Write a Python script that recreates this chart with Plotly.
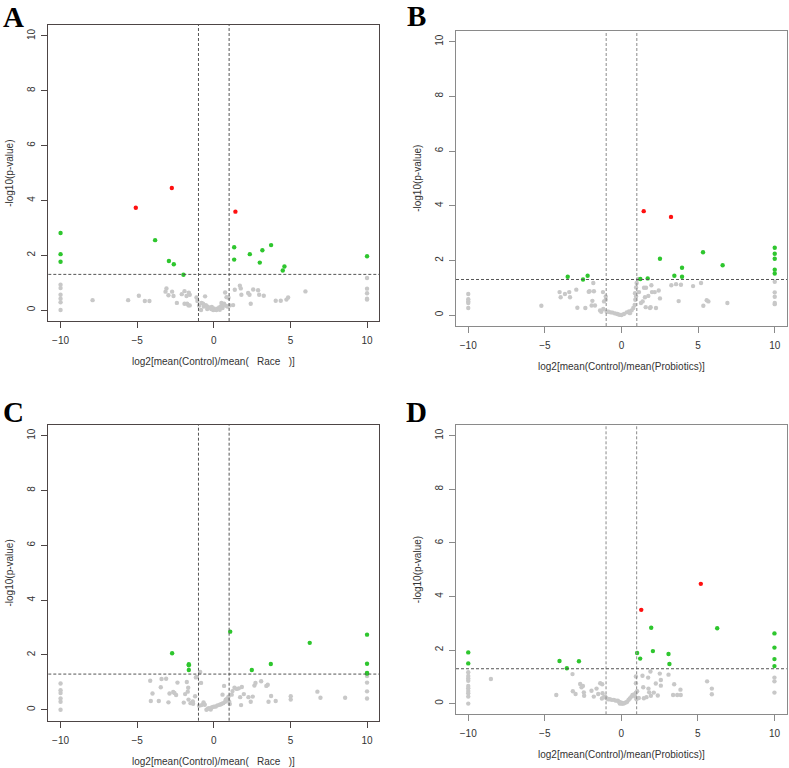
import plotly.graph_objects as go

# ---------------- Data ----------------
# Panel A: Control vs Race
A_grey_x = [-10, -10, -10, -10, -10, -10, 10, 10, 10, 10, 10,
            -7.91, -5.59, -4.89, -4.5, -4.2, -3.09, -3.15, -2.96, -2.72, -2.63, -2.41, -2.09, -1.91,
            -1.78, -1.63, -1.57, -1.91, -1.74, -1.65, -1.57, -1.13, -1.07, -0.8, -0.83, -0.57, -0.7,
            -0.52, -0.43, -0.3, -0.17, -0.04, 0.09, 0.22, 0.35, 0.46, 0.57, 0.67, 0.78, 0.89, 1.04,
            1.26, 0.74, 0.83, 0.96, -0.96, -0.65, -0.43, -0.13, 0.0, 0.17, 0.39, 0.5, 0.57, 1.37,
            1.7, 1.76, 1.8, 2.24, 2.33, 2.41, 2.57, 2.89, 2.96, 3.26, 4.04, 4.37, 4.74, 4.85, 5.98]
A_grey_y = [0.92, 0.80, 0.56, 0.41, 0.28, 0.0, 1.17, 0.78, 0.61, 0.41, 0.38,
            0.36, 0.36, 0.52, 0.33, 0.33, 0.79, 0.67, 0.54, 0.67, 0.51, 0.26, 0.58, 0.69,
            0.51, 0.63, 0.56, 0.23, 0.23, 0.17, 0.17, 0.46, 0.33, 0.26, 0.0, 0.5, 0.23,
            0.18, 0.13, 0.09, 0.04, 0.0, 0.01, 0.05, 0.09, 0.13, 0.18, 0.23, 0.16, 0.13, 0.17,
            0.18, 0.64, 0.47, 0.45, 0.16, 0.13, 0.04, 0.11, 0.06, 0.0, 0.01, 0.26, 0.07, 0.74,
            0.89, 0.79, 0.56, 0.62, 0.56, 0.23, 0.75, 0.72, 0.56, 0.52, 0.34, 0.34, 0.38, 0.46, 0.68]
A_green_x = [-10, -10, -10, -3.83, -2.93, -2.61, -1.98, 1.33, 1.33, 2.35, 3.17, 3.0, 3.74, 4.61, 4.5, 10]
A_green_y = [2.81, 2.04, 1.76, 2.55, 1.79, 1.67, 1.29, 2.29, 1.84, 2.04, 2.18, 1.73, 2.37, 1.59, 1.44, 1.96]
A_red_x = [-2.74, -5.09, 1.41]
A_red_y = [4.45, 3.73, 3.59]

# Panel B: Control vs Probiotics
B_grey_x = [-10, -10, -10, -10, -10, 10, 10, 10, 10, 10,
            -5.23, -4.04, -3.97, -3.69, -3.41, -3.36, -2.95, -2.88, -2.36, -2.14, -2.08, -1.9, -1.84,
            -1.8, -1.95, -1.73, -1.4, -1.32, -1.19, -1.21, -1.14, -1.03, -1.03,
            -0.97, -0.84, -0.71, -0.58, -0.42, -0.27, -0.14, 0.0, 0.16, 0.34, 0.49, 0.55, 0.66, 0.77,
            0.86, 0.9, 0.95, 0.88, 0.95, 0.99, 1.08,
            1.14, 1.27, 1.38, 1.47, 1.6, 1.53, 1.75, 1.58, 1.86, 1.95, 1.9, 1.99, 2.17, 2.25, 2.43,
            2.51, 3.25, 3.56, 3.88, 3.73, 4.67, 5.19, 5.34, 5.56, 5.67, 6.91]
B_grey_y = [0.77, 0.58, 0.5, 0.44, 0.26, 1.22, 0.83, 0.67, 0.44, 0.40,
            0.34, 0.84, 0.65, 0.77, 0.84, 0.65, 0.93, 0.27, 0.26, 0.85, 0.87, 0.52, 1.17,
            0.87, 0.35, 0.35, 0.17, 0.12, 0.22, 0.84, 0.5, 0.68, 0.56,
            0.13, 0.12, 0.1, 0.09, 0.06, 0.04, 0.01, 0.0, 0.04, 0.1, 0.13, 0.07, 0.17, 0.26,
            0.37, 0.56, 0.68, 0.8, 1.01, 1.17, 1.32,
            0.84, 0.44, 0.5, 1.0, 1.0, 0.65, 0.7, 0.29, 0.26, 1.09, 0.29, 0.84, 0.84, 0.26, 0.9,
            0.61, 1.09, 1.13, 1.11, 0.51, 1.06, 1.17, 0.34, 0.54, 0.5, 0.44]
B_green_x = [10, 10, 10, 10, 10, 5.32, 6.6, 2.51, 3.95, 3.45, 3.95, 1.23, 1.71, -3.51, -2.51, -2.21]
B_green_y = [2.46, 2.24, 2.06, 1.66, 1.52, 2.30, 1.82, 2.06, 1.73, 1.44, 1.40, 1.32, 1.34, 1.40, 1.30, 1.44]
B_red_x = [1.45, 3.23]
B_red_y = [3.80, 3.59]

# Panel C: Control vs Race
C_grey_x = [-10, -10, -10, -10, -10, -10, 10, 10, 10, 10,
            -4.15, -4.0, -4.11, -3.59, -3.41, -3.11, -3.46, -2.96, -2.89, -2.65, -2.57, -2.46, -2.37,
            -1.87, -1.96, -1.76, -1.67, -1.7, -1.65, -1.52, -1.37, -1.35, -1.22, -1.17, -1.11, -0.89,
            -0.83, -0.96, -0.8, -0.67, -0.59,
            -0.48, -0.35, -0.24, -0.11, 0.0, 0.13, 0.24, 0.39, 0.5, 0.61, 0.74, 0.57, 0.67, 0.78,
            0.87, 0.96, 1.0, 1.04, -0.37, -0.2,
            1.17, 1.22, 1.35, 1.5, 1.63, 1.78, 1.83, 1.72, 1.96, 2.26, 2.41, 2.54, 2.65, 2.72, 3.09,
            3.43, 3.52, 3.57, 3.74, 4.04, 5.02, 5.02, 6.76, 6.96, 8.57]
C_grey_y = [0.96, 0.71, 0.61, 0.41, 0.29, 0.0, 1.23, 0.99, 0.67, 0.41,
            1.06, 0.59, 0.32, 0.32, 1.12, 1.13, 0.82, 0.27, 0.59, 0.65, 0.61, 0.54, 0.99,
            0.57, 0.26, 1.01, 0.80, 0.66, 0.37, 0.24, 0.3, 0.22, 0.49, 1.18, 1.2, 1.38,
            0.98, 0.15, 0.17, 0.27, 0.18,
            0.0, 0.05, 0.06, 0.09, 0.11, 0.12, 0.16, 0.18, 0.21, 0.24, 0.29, 0.55, 0.87, 0.37,
            0.4, 0.48, 0.3, 0.21, 0.04, 0.01,
            0.55, 0.68, 0.80, 0.76, 0.78, 0.17, 0.83, 0.46, 0.57, 0.46, 0.29, 0.48, 0.88, 0.98, 1.04,
            0.87, 0.91, 0.29, 0.5, 0.32, 0.49, 0.37, 0.66, 0.44, 0.44]
C_green_x = [1.07, 10, 6.26, -2.72, -1.63, -1.63, -1.63, 3.72, 2.48, 10, 10, 10]
C_green_y = [2.85, 2.74, 2.44, 2.06, 1.66, 1.62, 1.45, 1.67, 1.45, 1.68, 1.34, 1.32]
C_red_x = []
C_red_y = []

# Panel D: Control vs Probiotics
D_grey_x = [-10, -10, -10, -10, -10, -10, -10, -10, -10, -10, 10, 10, 10,
            -8.52, -4.25, -3.19, -3.17, -2.99, -2.69, -2.6, -2.51, -2.45, -2.43, -1.95, -1.8, -1.62,
            -1.51, -1.38, -1.25, -1.23, -1.16, -1.27, -1.06,
            -0.97, -0.86, -0.75, -0.62, -0.49, -0.36, -0.23, -0.14, -0.03, 0.08, 0.18, 0.29, 0.38,
            0.47, 0.55, 0.66, 0.73, 0.84, 0.9, 0.99, 0.95, 0.95, 0.95, -0.1, 0.0, 0.1,
            1.03, 1.14, 1.38, 1.43, 1.47, 1.64, 1.75, 1.77, 1.82, 1.9, 1.93, 2.12, 2.25, 2.38, 2.51,
            2.58, 2.58, 3.08, 3.45, 3.38, 3.65, 3.86, 3.88, 5.6, 5.91, 5.91]
D_grey_y = [1.17, 1.03, 0.94, 0.85, 0.66, 0.57, 0.47, 0.39, 0.26, 0.0, 0.97, 0.83, 0.41,
            0.92, 0.32, 1.1, 0.46, 0.36, 0.73, 0.61, 0.66, 0.42, 0.29, 0.48, 0.26, 0.56,
            0.36, 0.76, 0.72, 0.39, 0.24, 0.19, 0.27,
            0.2, 0.16, 0.16, 0.14, 0.14, 0.11, 0.11, 0.06, 0.04, 0.01, 0.01, 0.04, 0.07,
            0.14, 0.19, 0.26, 0.32, 0.34, 0.26, 0.16, 0.41, 0.76, 1.01, 0.0, 0.0, 0.0,
            0.46, 0.21, 1.04, 0.61, 0.2, 0.24, 0.97, 0.56, 0.42, 1.2, 0.29, 0.41, 0.75, 0.3, 1.12,
            0.88, 0.67, 1.08, 0.72, 0.32, 0.32, 0.52, 0.32, 0.83, 0.56, 0.35]
D_green_x = [1.95, 6.26, 10, 10, 10, 10, 2.06, 3.08, 3.14, 1.03, 1.23, -10, -10, -4.04, -2.77, -3.56]
D_green_y = [2.83, 2.81, 2.62, 2.09, 1.66, 1.40, 1.96, 1.85, 1.48, 1.89, 1.68, 1.91, 1.50, 1.59, 1.58, 1.32]
D_red_x = [5.19, 1.3]
D_red_y = [4.47, 3.5]

fc_cutoffs = [-1, 1]
p_cutoff = 1.301
x_ticks = [-10, -5, 0, 5, 10]
y_ticks = [0, 2, 4, 6, 8, 10]
panel_letters = ["A", "B", "C", "D"]
x_titles = ["log2[mean(Control)/mean(\u00a0\u00a0\u00a0Race\u00a0\u00a0\u00a0)]",
            "log2[mean(Control)/mean(Probiotics)]",
            "log2[mean(Control)/mean(\u00a0\u00a0\u00a0Race\u00a0\u00a0\u00a0)]",
            "log2[mean(Control)/mean(Probiotics)]"]
y_title = "-log10(p-value)"

# ---------------- Layout geometry (pixels) ----------------
W, H = 789, 768
boxes = [  # x0, x1, ytop, ybot
    (48.3, 379.3, 25.0, 321.0),
    (456.0, 787.0, 30.7, 326.0),
    (48.3, 379.3, 424.7, 720.7),
    (456.0, 786.7, 425.0, 714.3),
]
box_colors = ["#4d4545", "#8a8a8a", "#4d4545", "#8a8a8a"]
vline_colors = ["#555555", "#8a8a8a", "#555555", "#8a8a8a"]

GREY = "#c8c8c8"
GREEN = "#2ec62e"
RED = "#ff1010"

panels = [
    (A_grey_x, A_grey_y, A_green_x, A_green_y, A_red_x, A_red_y),
    (B_grey_x, B_grey_y, B_green_x, B_green_y, B_red_x, B_red_y),
    (C_grey_x, C_grey_y, C_green_x, C_green_y, C_red_x, C_red_y),
    (D_grey_x, D_grey_y, D_green_x, D_green_y, D_red_x, D_red_y),
]

fig = go.Figure()
shapes = []
annotations = []
layout_axes = {}

for i, (gx, gy, grx, gry, rx, ry) in enumerate(panels):
    n = "" if i == 0 else str(i + 1)
    xa, ya = "x" + n, "y" + n
    for xs, ys, col in [(gx, gy, GREY), (grx, gry, GREEN), (rx, ry, RED)]:
        fig.add_trace(go.Scatter(x=xs, y=ys, mode="markers", xaxis=xa, yaxis=ya,
                                 marker=dict(color=col, size=4.4, line=dict(width=0)),
                                 showlegend=False, hoverinfo="skip"))
    x0, x1, yt, yb = boxes[i]
    bc = box_colors[i]
    common = dict(showline=True, mirror=True, linecolor=bc, linewidth=1,
                  ticks="outside", ticklen=6, tickcolor=bc, tickwidth=1,
                  showgrid=False, zeroline=False,
                  tickfont=dict(family="Liberation Sans, Arial", size=10, color="#333333"))
    layout_axes["xaxis" + n] = dict(domain=[x0 / W, x1 / W], range=[-10.8, 10.8],
                                    tickvals=x_ticks, anchor=ya, ticklabelstandoff=4, **common)
    layout_axes["yaxis" + n] = dict(domain=[1 - yb / H, 1 - yt / H], range=[-0.4, 10.4],
                                    tickvals=y_ticks, anchor=xa, tickangle=-90,
                                    ticklabelstandoff=2, **common)
    # cutoff lines
    for fc in fc_cutoffs:
        shapes.append(dict(type="line", xref=xa, yref=ya + " domain", x0=fc, x1=fc, y0=0, y1=1,
                           line=dict(color=vline_colors[i], width=1, dash="3px,2px")))
    shapes.append(dict(type="line", xref=xa + " domain", yref=ya, x0=0, x1=1,
                       y0=p_cutoff, y1=p_cutoff,
                       line=dict(color="#555555", width=1, dash="3px,2px")))
    # x title
    annotations.append(dict(text=x_titles[i], xref="paper", yref="paper",
                            x=(x0 + x1) / 2 / W, y=1 - (yb + 40.5) / H,
                            xanchor="center", yanchor="middle", showarrow=False,
                            font=dict(family="Liberation Sans, Arial", size=10, color="#333333")))
    # y title
    annotations.append(dict(text=y_title, xref="paper", yref="paper",
                            x=(x0 - 38.5) / W, y=1 - (yt + (yb - yt) * 0.5) / H,
                            xanchor="center", yanchor="middle", showarrow=False, textangle=-90,
                            font=dict(family="Liberation Sans, Arial", size=10, color="#333333")))

letter_pos = [(13, 17), (416, 16), (13, 412), (416, 412)]
for L, (lx, ly) in zip(panel_letters, letter_pos):
    annotations.append(dict(text="<b>" + L + "</b>", xref="paper", yref="paper",
                            x=lx / W, y=1 - ly / H, xanchor="center", yanchor="middle",
                            showarrow=False, borderpad=0,
                            font=dict(family="Liberation Serif, Times New Roman", size=29,
                                      color="black")))

fig.update_layout(width=W, height=H, margin=dict(l=0, r=0, t=0, b=0),
                  paper_bgcolor="white", plot_bgcolor="white",
                  shapes=shapes, annotations=annotations, **layout_axes)

fig.write_html("out.html", config={"displayModeBar": False},
               post_script="document.body.style.margin='0px';document.body.style.overflow='hidden';")
